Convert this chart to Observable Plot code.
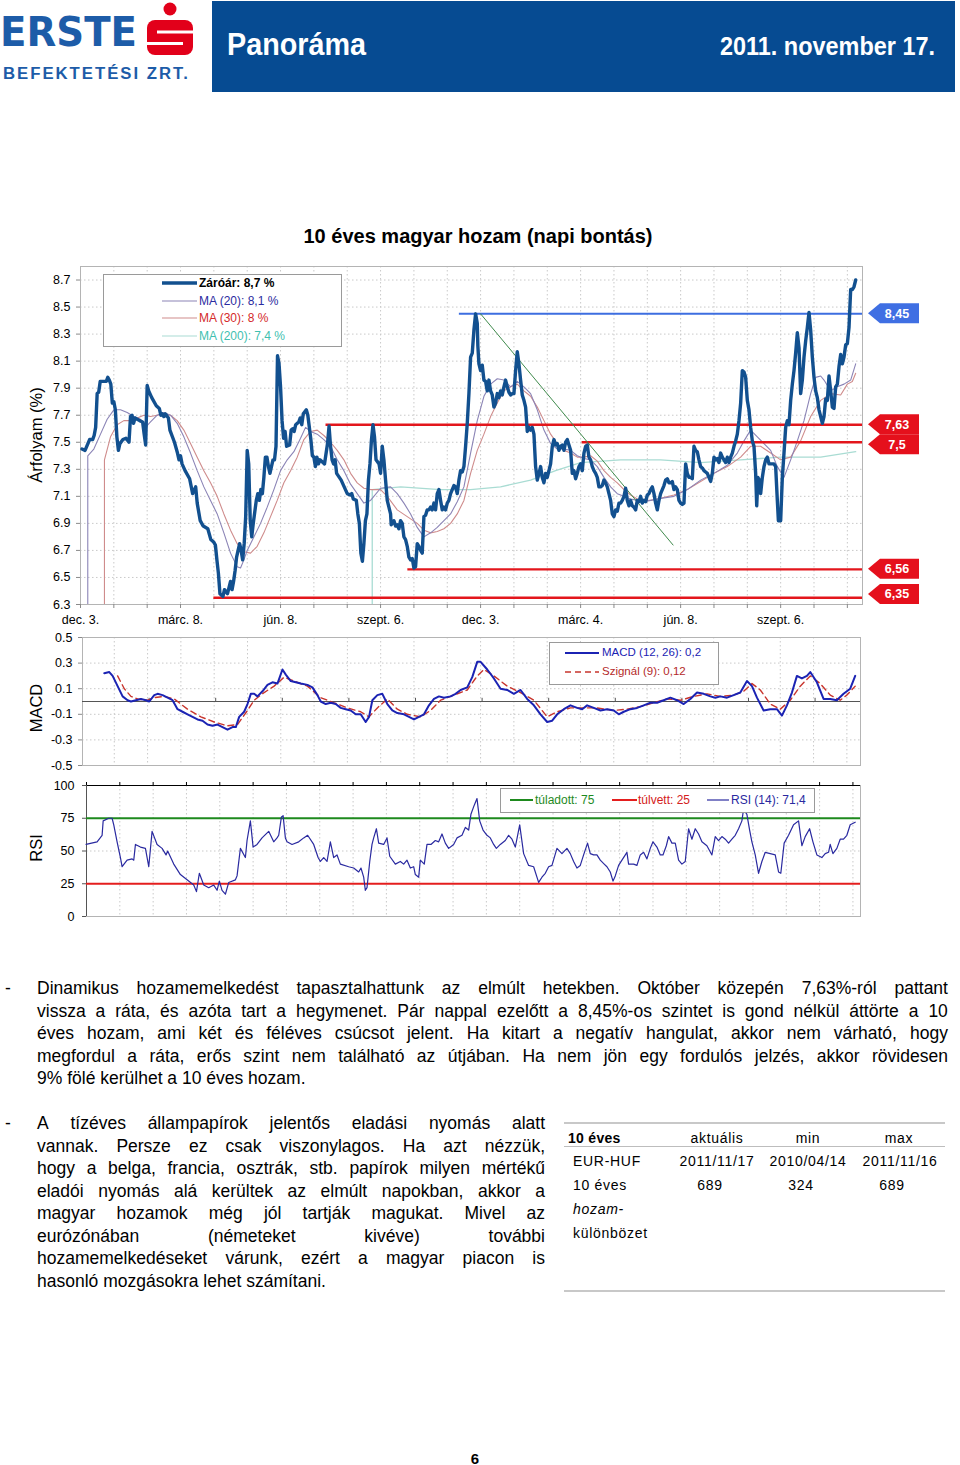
<!DOCTYPE html>
<html lang="hu">
<head>
<meta charset="utf-8">
<title>10 éves magyar hozam (napi bontás)</title>
<script src="https://cdn.jsdelivr.net/npm/d3@7"></script>
<script src="https://cdn.jsdelivr.net/npm/@observablehq/plot@0.6"></script>
<style>
html,body{margin:0;padding:0;background:#fff}
body{position:relative;width:960px;height:1465px;overflow:hidden;font-family:"Liberation Sans",Arial,Helvetica,sans-serif;color:#000}
.a{position:absolute;white-space:nowrap}
.lh1{line-height:1}
.ytitle{font-size:16.5px;line-height:1;transform:translate(-50%,-50%) rotate(-90deg)}
.lg{font-size:12px;line-height:1;transform:translateY(-50%)}
.box{border:1px solid #9a9a9a;background:#fff;box-sizing:border-box}
.para{font-size:17.5px;line-height:22.5px}
.jl{display:flex;justify-content:space-between;white-space:nowrap}
.tc{font-size:14px;letter-spacing:0.7px;line-height:1;transform:translate(-50%,-50%)}
.tl{font-size:14px;letter-spacing:0.7px;line-height:1;transform:translateY(-50%)}
</style>
</head>
<body>

<!-- header -->
<div class="a lh1" data-fit="137" style="left:0px;top:12px;font-size:41px;font-weight:bold;color:#1d5ca8;font-family:'DejaVu Sans','Liberation Sans',Arial">ERSTE</div>
<svg class="a" style="left:140px;top:0" width="60" height="60">
  <circle cx="30" cy="9" r="6.5" fill="#e2001a"/>
  <rect x="7" y="20" width="46" height="35" rx="8" fill="#e2001a"/>
  <rect x="17" y="30.5" width="36" height="3" fill="#fff"/>
  <rect x="7" y="42" width="36" height="3" fill="#fff"/>
</svg>
<div class="a lh1" data-fit="187" style="left:3px;top:65.8px;font-size:16.8px;font-weight:bold;color:#1d5ca8;letter-spacing:2px">BEFEKTETÉSI ZRT.</div>
<div class="a" style="left:212px;top:1px;width:743px;height:91px;background:#064b92"></div>
<div class="a lh1" data-fit="139" style="left:227px;top:29px;font-size:31px;font-weight:bold;color:#fff;font-family:'Liberation Sans Narrow','Liberation Sans',Arial">Panoráma</div>
<div class="a lh1" data-fit="215" style="left:720px;top:32.5px;font-size:26.5px;font-weight:bold;color:#fff;font-family:'Liberation Sans Narrow','Liberation Sans',Arial">2011. november 17.</div>

<!-- chart title -->
<div class="a lh1" style="left:478px;top:225.5px;font-size:20px;font-weight:bold;transform:translateX(-50%)">10 éves magyar hozam (napi bontás)</div>

<!-- charts -->
<div class="a" id="priceChart" style="left:0;top:250px"></div>
<div class="a" id="macdChart" style="left:0;top:630px"></div>
<div class="a" id="rsiChart" style="left:0;top:775px"></div>

<!-- axis titles -->
<div class="a ytitle" style="left:36px;top:435px">Árfolyam (%)</div>
<div class="a ytitle" style="left:36px;top:708px">MACD</div>
<div class="a ytitle" style="left:36px;top:848px">RSI</div>

<!-- price legend -->
<div class="a box" style="left:103px;top:274px;width:239px;height:73px"></div>
<svg class="a" style="left:162px;top:274px" width="36" height="72">
  <line x1="0" y1="9" x2="35" y2="9" stroke="#12508f" stroke-width="3.4"/>
  <line x1="0" y1="27" x2="35" y2="27" stroke="#8b84b6" stroke-width="1.1"/>
  <line x1="0" y1="44" x2="35" y2="44" stroke="#cf8c8c" stroke-width="1.1"/>
  <line x1="0" y1="62" x2="35" y2="62" stroke="#a9dcd3" stroke-width="1.2"/>
</svg>
<div class="a lg" style="left:199px;top:283px;font-weight:bold">Záróár: 8,7 %</div>
<div class="a lg" style="left:199px;top:301px;color:#2b2ba0">MA (20): 8,1 %</div>
<div class="a lg" style="left:199px;top:318px;color:#d42a2a">MA (30): 8 %</div>
<div class="a lg" style="left:199px;top:336px;color:#3fbfb0">MA (200): 7,4 %</div>

<!-- MACD legend -->
<div class="a box" style="left:549px;top:642px;width:170px;height:43px"></div>
<svg class="a" style="left:565px;top:645px" width="34" height="36">
  <line x1="0" y1="8" x2="34" y2="8" stroke="#1b23b3" stroke-width="2"/>
  <line x1="0" y1="27" x2="34" y2="27" stroke="#c8352d" stroke-width="1.4" stroke-dasharray="6,4"/>
</svg>
<div class="a lg" style="left:602px;top:653px;color:#1b23b3;font-size:11.5px">MACD (12, 26): 0,2</div>
<div class="a lg" style="left:602px;top:672px;color:#b42a2a;font-size:11.5px">Szignál (9): 0,12</div>

<!-- RSI legend -->
<div class="a box" style="left:500px;top:788px;width:315px;height:25px"></div>
<svg class="a" style="left:505px;top:795px" width="230" height="10">
  <line x1="5" y1="5" x2="28" y2="5" stroke="#1e8a1e" stroke-width="2"/>
  <line x1="107" y1="5" x2="132" y2="5" stroke="#e41e1e" stroke-width="2"/>
  <line x1="202" y1="5" x2="224" y2="5" stroke="#2a2aa0" stroke-width="1.2"/>
</svg>
<div class="a lg" style="left:535px;top:800px;color:#1e8a1e">túladott: 75</div>
<div class="a lg" style="left:638px;top:800px;color:#d42020">túlvett: 25</div>
<div class="a lg" style="left:731px;top:800px;color:#2a2aa0">RSI (14): 71,4</div>

<!-- text -->
<div class="a para" style="left:5px;top:977px">-</div>
<div class="a para" style="left:37px;top:977px;width:911px">
  <div class="jl">Dinamikus hozamemelkedést tapasztalhattunk az elmúlt hetekben. Október közepén 7,63%-ról pattant</div>
  <div class="jl">vissza a ráta, és azóta tart a hegymenet. Pár nappal ezelőtt a 8,45%-os szintet is gond nélkül áttörte a 10</div>
  <div class="jl">éves hozam, ami két és féléves csúcsot jelent. Ha kitart a negatív hangulat, akkor nem várható, hogy</div>
  <div class="jl">megfordul a ráta, erős szint nem található az útjában. Ha nem jön egy fordulós jelzés, akkor rövidesen</div>
  <div>9% fölé kerülhet a 10 éves hozam.</div>
</div>
<div class="a para" style="left:5px;top:1112px">-</div>
<div class="a para" style="left:37px;top:1112px;width:508px">
  <div class="jl">A tízéves állampapírok jelentős eladási nyomás alatt</div>
  <div class="jl">vannak. Persze ez csak viszonylagos. Ha azt nézzük,</div>
  <div class="jl">hogy a belga, francia, osztrák, stb. papírok milyen mértékű</div>
  <div class="jl">eladói nyomás alá kerültek az elmúlt napokban, akkor a</div>
  <div class="jl">magyar hozamok még jól tartják magukat. Mivel az</div>
  <div class="jl">eurózónában (németeket kivéve) további</div>
  <div class="jl">hozamemelkedéseket várunk, ezért a magyar piacon is</div>
  <div>hasonló mozgásokra lehet számítani.</div>
</div>

<!-- table -->
<div class="a" style="left:564px;top:1122px;width:381px;height:2px;background:#c8c8c8"></div>
<div class="a" style="left:564px;top:1146px;width:381px;height:1px;background:#bdbdbd"></div>
<div class="a" style="left:564px;top:1290px;width:381px;height:2px;background:#c8c8c8"></div>
<div class="a tl" style="left:568px;top:1138px;font-weight:bold;letter-spacing:0.3px">10 éves</div>
<div class="a tc" style="left:717px;top:1138px">aktuális</div>
<div class="a tc" style="left:808px;top:1138px">min</div>
<div class="a tc" style="left:899px;top:1138px">max</div>
<div class="a tl" style="left:573px;top:1161px">EUR-HUF</div>
<div class="a tc" style="left:717px;top:1161px">2011/11/17</div>
<div class="a tc" style="left:808px;top:1161px">2010/04/14</div>
<div class="a tc" style="left:900px;top:1161px">2011/11/16</div>
<div class="a tl" style="left:573px;top:1185px">10 éves</div>
<div class="a tc" style="left:710px;top:1185px">689</div>
<div class="a tc" style="left:801px;top:1185px">324</div>
<div class="a tc" style="left:892px;top:1185px">689</div>
<div class="a tl" style="left:573px;top:1209px;font-style:italic">hozam-</div>
<div class="a tl" style="left:573px;top:1233px">különbözet</div>

<div class="a lh1" style="left:475px;top:1458px;font-size:15px;font-weight:bold;transform:translate(-50%,-50%)">6</div>

<script>
// ---------- data (x = trading-day index, y = value) ----------
const xTickDays = d3.range(0, 516, 22);
const xLabelDays = [0, 66, 132, 198, 264, 330, 396, 462];
const xLabels = ["dec. 3.", "márc. 8.", "jún. 8.", "szept. 6.", "dec. 3.", "márc. 4.", "jún. 8.", "szept. 6."];
const priceTicks = [6.3, 6.5, 6.7, 6.9, 7.1, 7.3, 7.5, 7.7, 7.9, 8.1, 8.3, 8.5, 8.7];
const macdTicks = [0.5, 0.3, 0.1, -0.1, -0.3, -0.5];
const rsiTicks = [0, 25, 50, 75, 100];
const rsiOverbought = 75;
const rsiOversold = 25;

const close = [[1,7.45],[3,7.44],[6,7.52],[8,7.52],[9,7.55],[10,7.61],[11,7.86],[12,7.87],[13,7.95],[15,7.95],[17,7.95],[18,7.98],[19,7.96],[20,7.93],[21,7.79],[22,7.8],[23,7.74],[24,7.54],[25,7.44],[26,7.49],[28,7.52],[30,7.53],[32,7.5],[33,7.69],[34,7.7],[35,7.64],[36,7.68],[39,7.66],[41,7.65],[42,7.56],[43,7.48],[44,7.92],[45,7.88],[47,7.83],[50,7.77],[52,7.75],[53,7.7],[54,7.71],[55,7.69],[56,7.71],[58,7.68],[59,7.59],[62,7.5],[64,7.42],[65,7.37],[66,7.4],[67,7.34],[69,7.29],[72,7.23],[74,7.12],[76,7.17],[77,7.05],[79,6.92],[81,6.88],[84,6.86],[86,6.78],[88,6.76],[89,6.74],[90,6.63],[91,6.53],[92,6.38],[94,6.36],[95,6.41],[97,6.38],[99,6.47],[100,6.41],[101,6.47],[102,6.55],[103,6.65],[105,6.75],[106,6.7],[107,6.63],[108,6.75],[109,6.95],[110,7.44],[111,7.34],[112,6.92],[113,6.8],[114,6.9],[116,7.07],[117,7.12],[118,7.07],[119,7.15],[120,7.12],[121,7.24],[122,7.39],[123,7.39],[124,7.32],[125,7.27],[127,7.37],[128,7.37],[129,7.47],[130,8.14],[131,8.08],[132,7.91],[133,7.66],[134,7.53],[135,7.58],[136,7.47],[138,7.48],[139,7.59],[140,7.6],[141,7.58],[142,7.63],[144,7.65],[145,7.68],[146,7.63],[147,7.71],[149,7.74],[150,7.7],[152,7.52],[153,7.4],[154,7.39],[155,7.32],[156,7.39],[157,7.34],[158,7.37],[161,7.34],[163,7.49],[164,7.62],[165,7.47],[166,7.37],[167,7.34],[168,7.37],[169,7.27],[172,7.22],[174,7.17],[176,7.12],[178,7.11],[179,7.12],[180,7.08],[182,7.07],[183,6.97],[184,6.9],[185,6.68],[186,6.62],[187,6.75],[188,6.92],[189,6.97],[190,7.22],[191,7.34],[192,7.52],[193,7.63],[194,7.54],[195,7.37],[197,7.34],[198,7.27],
[199.1,7.47],[200.2,7.37],[201.3,7.22],[202.4,7.07],[203.5,7.02],[204.6,6.97],[205,6.89],[206.8,6.92],[207.9,6.88],[209,6.89],[210.1,6.86],[211.2,6.92],[212.3,6.9],[213.4,6.8],[214.5,6.78],[215.6,6.73],[216.7,6.65],[217.8,6.63],[218.9,6.64],[220,6.57],[221.1,6.58],[222.2,6.75],[223.3,6.73],[224.4,6.7],[225.5,6.68],[226.6,6.95],[227.7,6.96],[228.8,7],[229.9,7],[231,7.02],[232.1,7],[233.2,7.05],[234.3,7],[235.4,7.12],[236.5,7.15],[237.6,7.07],[238.7,7],[239.8,7.02],[240.9,7],[242,7.05],[243.1,7.07],[244.2,7.12],[245.3,7.15],[246.4,7.18],[247.5,7.17],[248.6,7.12],[249.7,7.22],[250.8,7.29],[251.9,7.28],[253,7.32],[254.1,7.47],[255.2,7.64],[256.3,7.86],[257.4,8.13],[258.5,8.16],[259.6,8.33],[260.7,8.45],[261.8,8.38],[262.2,8.21],[262.9,8.08],[264,8.03],[265.1,8.07],[266.2,7.96],[267.3,7.95],[268.4,7.88],[269.5,7.96],[270.6,7.88],[271.7,7.85],[272.8,7.76],[273.9,7.79],[275,7.86],[276.1,7.83],[277.2,7.88],[278.3,7.85],[279.4,7.91],[280.5,7.96],[281.6,7.91],[282.7,7.87],[283.8,7.85],[284.9,7.86],[286,7.86],[287.1,8.03],[288.2,8.17],[289.3,8.08],[290.4,7.96],[291.5,7.85],[292.6,7.81],[293.7,7.76],[294.8,7.58],[295.9,7.61],[297,7.59],[298.1,7.61],[299.2,7.56],[300.3,7.32],[301.4,7.22],[302.5,7.27],[303.6,7.32],[304.7,7.24],[305.8,7.2],[306.9,7.27],[308,7.24],[309.1,7.29],[310.2,7.34],[311.3,7.47],[312.4,7.52],[313.5,7.48],[314.6,7.49],[315.7,7.44],[316.8,7.47],[317.9,7.48],[319,7.44],[320.1,7.5],[321.2,7.52],[322.3,7.48],[323.4,7.44],[324.5,7.27],[325.6,7.29],[326.7,7.23],[327.8,7.27],[328.9,7.32],[330,7.34],[331.1,7.29],[332.2,7.42],[333.3,7.47],[334.4,7.48],[335.5,7.39],[336.6,7.37],[337.7,7.32],[338.8,7.29],[339.9,7.27],[341,7.24],[342.1,7.17],[343.2,7.17],[344.3,7.18],[345.4,7.22],[346.5,7.2],[347.6,7.17],[348.7,7.12],[349.8,7.07],[350.9,6.97],[352,6.95],[353.1,7],[354.2,6.99],[355.3,7.05],[356.4,7.05],[357.5,7.07],[358.6,7.1],[359.7,7.16],[360.8,7.07],[361.9,7.03],[363,7.07],[364.1,7.03],[365.2,7.02],[366.3,7],[367.4,7.07],[368.5,7.06],[369.6,7.1],[370.7,7.05],[371.8,7.07],[372.9,7.06],[374,7.11],[375.1,7.12],[376.2,7.15],[377.3,7.17],[378.4,7.12],[379.5,7.05],[380.6,7],[381.7,7.07],[382.8,7.12],[383.9,7.15],[385,7.18],[386.1,7.22],[387.2,7.23],[388.3,7.2],[389.4,7.2],
[390.5,7.21],[391.6,7.15],[392.7,7.17],[393.8,7.15],[394.9,7.07],[396,7.05],[397.1,7.04],[398.2,7.05],[399.3,7.34],[400.4,7.27],[401.5,7.24],[402.6,7.24],[403.7,7.23],[404.8,7.47],[405.9,7.44],[407,7.43],[408.1,7.37],[409.2,7.32],[410.3,7.31],[411.4,7.29],[412.5,7.28],[413.6,7.27],[414.7,7.24],[415.8,7.21],[416.9,7.27],[418,7.39],[419.1,7.37],[420.2,7.38],[421.3,7.35],[422.4,7.42],[423.5,7.39],[424.6,7.37],[425.7,7.35],[426.8,7.39],[427.9,7.35],[429,7.39],[430.1,7.42],[431.2,7.47],[432.3,7.51],[433.4,7.56],[434.5,7.66],[435.6,7.79],[436.7,8.03],[437.8,8.02],[438.9,7.98],[440,7.81],[441.1,7.74],[442.2,7.61],[443.3,7.51],[444.4,7.47],[445.5,7.27],[446.2,7.03],[447,7.24],[447.9,7.22],[448.8,7.12],[449.9,7.24],[451,7.32],[452.1,7.37],[453.2,7.39],[454.3,7.34],[455.4,7.34],[457.6,7.34],[458.7,7.32],[459.8,7.07],[460.5,6.92],[462,6.92],[463.1,7.24],[464.2,7.42],[465.3,7.61],[466.4,7.66],[467.5,7.63],[468.6,7.81],[469.7,7.93],[470.8,8.03],[471.9,8.16],[473,8.31],[474.1,8.2],[475.2,7.86],[476.3,7.96],[477.4,8.13],[478.5,8.25],[479.6,8.35],[480.7,8.46],[481.8,8.33],[482.9,8.13],[484,7.98],[485.1,7.88],[486.2,7.83],[487.3,7.74],[488.4,7.69],[489.5,7.64],[490.6,7.69],[491.7,7.82],[492.8,7.81],[493.9,7.99],[495,7.88],[496.1,7.76],[497.2,7.75],[498.3,7.91],[499.4,7.93],[500.5,8.06],[501.6,8.15],[502.7,8.08],[503.8,8.13],[504.9,8.22],[506,8.23],[507.1,8.35],[508.2,8.63],[509.3,8.63],[510.4,8.65],[511.5,8.7]];

const ma20 = [[4.8,0],[4.8,7.4],[8.8,7.45],[13.2,7.56],[17.6,7.67],[22,7.74],[26.4,7.74],[30.8,7.72],[35.2,7.69],[39.6,7.67],[42.9,7.61],[46.2,7.65],[50.6,7.7],[55,7.72],[59.4,7.7],[63.8,7.64],[68.2,7.54],[72.6,7.42],[77,7.29],[81.4,7.17],[85.8,7.07],[90.2,6.97],[94.6,6.83],[99,6.68],[103.4,6.58],[105.6,6.57],[107.8,6.63],[110,6.7],[114.4,6.8],[118.8,6.9],[123.2,7.02],[127.6,7.15],[132,7.29],[136.4,7.37],[140.8,7.43],[145.2,7.53],[148.5,7.61],[151.8,7.58],[156.2,7.56],[160.6,7.52],[165,7.47],[169.4,7.37],[173.8,7.29],[178.2,7.19],[182.6,7.12],[187,7.05],[191.4,7.07],[198,7.16],[204.6,7.17],[209,7.12],[213.4,7.05],[217.8,6.97],[222.2,6.87],[226.6,6.8],[231,6.83],[235.4,6.87],[239.8,6.92],[244.2,6.97],[248.6,7.06],[253,7.17],[257.4,7.42],[261.8,7.66],[266.2,7.84],[270.6,7.93],[275,7.97],[279.4,7.96],[283.8,7.91],[288.2,7.95],[292.6,7.91],[297,7.86],[301.4,7.74],[305.8,7.59],[310.2,7.49],[314.6,7.45],[319,7.45],[323.4,7.44],[327.8,7.4],[332.2,7.38],[336.6,7.37],[341,7.32],[345.4,7.24],[349.8,7.17],[354.2,7.12],[358.6,7.1],[363,7.08],[367.4,7.07],[371.8,7.06],[376.2,7.07],[380.6,7.08],[391.6,7.1],[400.4,7.15],[409.2,7.22],[418,7.27],[426.8,7.33],[433.4,7.42],[437.8,7.51],[442.2,7.59],[446.6,7.54],[451,7.49],[455.4,7.44],[459.8,7.32],[464.2,7.24],[468.6,7.37],[473,7.51],[477.4,7.66],[481.8,7.86],[485.1,7.98],[488.4,7.99],[490.6,7.96],[495,7.88],[499.4,7.91],[503.8,7.93],[508.2,7.96],[511.5,8.08]];

const ma30 = [[15.8,0],[15.8,7.37],[19.8,7.54],[24.2,7.63],[28.6,7.66],[33,7.66],[37.4,7.68],[41.8,7.7],[46.2,7.69],[50.6,7.7],[55,7.71],[59.4,7.7],[63.8,7.66],[68.2,7.59],[72.6,7.49],[77,7.39],[81.4,7.29],[85.8,7.2],[90.2,7.1],[94.6,6.97],[99,6.85],[103.4,6.75],[107.8,6.69],[112.2,6.68],[116.6,6.73],[121,6.83],[125.4,6.95],[129.8,7.07],[134.2,7.2],[138.6,7.29],[143,7.39],[147.4,7.52],[151.8,7.58],[156.2,7.59],[160.6,7.55],[165,7.5],[169.4,7.44],[173.8,7.37],[178.2,7.27],[182.6,7.2],[187,7.16],[191.4,7.15],[198,7.15],[202.4,7.1],[209,7],[215.6,6.95],[222.2,6.9],[226.6,6.85],[231,6.83],[235.4,6.84],[239.8,6.86],[244.2,6.9],[248.6,6.97],[253,7.07],[257.4,7.27],[261.8,7.44],[266.2,7.56],[270.6,7.69],[275,7.79],[279.4,7.88],[283.8,7.91],[288.2,7.93],[292.6,7.88],[297,7.84],[301.4,7.76],[305.8,7.66],[310.2,7.56],[314.6,7.49],[319,7.44],[323.4,7.42],[327.8,7.39],[332.2,7.39],[336.6,7.4],[341,7.36],[345.4,7.29],[349.8,7.24],[354.2,7.2],[358.6,7.15],[363,7.11],[367.4,7.08],[371.8,7.07],[376.2,7.07],[380.6,7.08],[391.6,7.11],[400.4,7.15],[409.2,7.21],[418,7.27],[426.8,7.32],[435.6,7.39],[442.2,7.47],[448.8,7.47],[455.4,7.42],[462,7.37],[468.6,7.39],[475.2,7.51],[481.8,7.69],[488.4,7.81],[495,7.86],[501.6,7.85],[506,7.93],[509.3,7.95],[511.5,8.01]];

const ma200 = [[192.5,0],[192.5,7.15],[211.2,7.17],[237.6,7.15],[257.4,7.15],[277.2,7.17],[297,7.22],[313.5,7.29],[330,7.35],[356.4,7.37],[382.8,7.37],[409.2,7.35],[435.6,7.37],[462,7.39],[488.4,7.39],[511.5,7.43]];

const levels = [8.45, 7.63, 7.5, 6.56, 6.35];
const levelStart = [250, 162, 331, 216, 88];
const trend = [[264, 8.45], [391, 6.74]];

const macd = [[15.4,0.22],[18.7,0.23],[20.9,0.2],[24.2,0.12],[27.5,0.04],[30.8,0.01],[33,0],[36.3,0.01],[39.6,0.02],[42.9,0.01],[45.1,0],[48.4,0.05],[50.6,0.06],[53.9,0.05],[57.2,0.03],[60.5,0.01],[63.8,-0.06],[67.1,-0.08],[70.4,-0.1],[73.7,-0.12],[77,-0.14],[80.3,-0.15],[83.6,-0.18],[86.9,-0.19],[90.2,-0.18],[93.5,-0.2],[96.8,-0.22],[100.1,-0.2],[102.3,-0.2],[104.5,-0.12],[107.8,-0.08],[110,-0.02],[112.2,0.06],[114.4,0.06],[116.6,0.04],[119.9,0.08],[123.2,0.13],[126.5,0.15],[129.8,0.14],[133.1,0.25],[135.3,0.21],[138.6,0.16],[141.9,0.15],[145.2,0.14],[149.6,0.13],[152.9,0.11],[156.2,0.05],[158.4,0],[161.7,-0.02],[165,-0.01],[168.3,-0.02],[171.6,-0.05],[174.9,-0.06],[178.2,-0.07],[181.5,-0.1],[184.8,-0.1],[188.1,-0.16],[190.3,-0.12],[192.5,0.01],[195.8,0.05],[199.1,0.06],[202.4,-0.02],[205.7,-0.07],[209,-0.09],[213.4,-0.1],[216.7,-0.12],[220,-0.14],[223.3,-0.12],[226.6,-0.1],[229.9,-0.03],[233.2,0.02],[236.5,0.04],[239.8,0.03],[244.2,0.04],[247.5,0.06],[250.8,0.09],[255.2,0.11],[258.5,0.19],[261.8,0.31],[264,0.31],[268.4,0.25],[272.8,0.18],[277.2,0.1],[281.6,0.09],[286,0.06],[290.4,0.09],[294.8,0.02],[299.2,-0.03],[303.6,-0.1],[308,-0.16],[311.3,-0.15],[314.6,-0.1],[319,-0.06],[323.4,-0.03],[327.8,-0.05],[331.1,-0.06],[334.4,-0.03],[338.8,-0.05],[343.2,-0.07],[347.6,-0.06],[352,-0.07],[355.3,-0.1],[358.6,-0.08],[363,-0.06],[367.4,-0.05],[371.8,-0.03],[376.2,-0.01],[380.6,-0.01],[385,0.01],[389.4,0.03],[393.8,0.01],[398.2,-0.02],[402.6,0.02],[407,0.07],[411.4,0.06],[415.8,0.04],[419.1,0.03],[422.4,0.04],[426.8,0.03],[431.2,0.05],[435.6,0.07],[440,0.16],[443.3,0.12],[446.6,0.03],[451,-0.07],[455.4,-0.06],[459.8,-0.06],[463.1,-0.11],[466.4,-0.03],[469.7,0.07],[473,0.2],[476.3,0.18],[479.6,0.2],[481.8,0.23],[486.2,0.15],[490.6,0.02],[495,0.02],[499.4,0.01],[503.8,0.06],[508.2,0.1],[511.5,0.2]];

const signal = [[24.2,0.2],[28.6,0.1],[33,0.04],[37.4,0.02],[44,0.01],[48.4,0.03],[55,0.04],[61.6,0.02],[70.4,-0.06],[79.2,-0.12],[88,-0.16],[96.8,-0.19],[103.4,-0.18],[110,-0.07],[114.4,0.01],[121,0.07],[127.6,0.12],[134.2,0.19],[140.8,0.16],[149.6,0.12],[158.4,0.03],[167.2,-0.01],[176,-0.05],[184.8,-0.08],[190.3,-0.12],[195.8,-0.05],[202.4,0.02],[209,-0.06],[215.6,-0.1],[224.4,-0.12],[231,-0.07],[237.6,0.01],[246.4,0.05],[255.2,0.09],[261.8,0.2],[266.2,0.25],[272.8,0.2],[281.6,0.12],[290.4,0.07],[299.2,0.01],[308,-0.12],[314.6,-0.08],[323.4,-0.05],[332.2,-0.05],[341,-0.05],[352,-0.07],[360.8,-0.06],[369.6,-0.04],[378.4,-0.01],[387.2,0.02],[396,0.01],[404.8,0.04],[413.6,0.06],[422.4,0.04],[431.2,0.05],[437.8,0.08],[443.3,0.14],[448.8,0.09],[455.4,-0.02],[462,-0.06],[468.6,0.01],[475.2,0.12],[481.8,0.2],[488.4,0.14],[495,0.05],[501.6,0.01],[506,0.05],[511.5,0.12]];

const rsi = [[3.7,55],[11,57],[14.3,62],[15,73],[18.7,75],[20.9,75],[22,70],[24.2,57],[26.4,45],[27.5,38],[30.8,43],[34.1,44],[35.2,43],[36.3,55],[39.6,53],[42.9,52],[45.1,38],[47.3,65],[50.6,55],[53.9,52],[56.5,47],[57.6,50],[61.6,40],[66,32],[70.4,28],[74.8,24],[76.6,19],[78.5,33],[81.4,24],[84.7,22],[88,24],[90.2,20],[91.7,27],[93.5,20],[95.7,17],[97.9,26],[102.3,28],[103.4,31],[105.6,52],[108.9,45],[110,58],[112.2,73],[114,53],[116.6,55],[119.9,60],[124.3,65],[127.6,57],[129.8,60],[130.9,62],[132.7,76],[133.8,77],[135.3,60],[136.4,57],[139.7,55],[144.1,57],[147.4,60],[150,62],[154,55],[156.9,45],[158.4,42],[160.6,45],[162.8,42],[165,57],[167.2,45],[169.4,47],[171.6,40],[177.1,38],[180.4,37],[183.7,34],[185.2,37],[187,30],[188.1,20],[189.2,22],[191,42],[192.5,55],[193.6,60],[195.4,67],[196.9,56],[200.2,55],[202.4,60],[204.2,46],[207.9,40],[211.2,42],[213.4,40],[215.6,43],[217.8,37],[220,38],[221.1,32],[223.3,30],[224.4,43],[227,40],[228.8,55],[231.4,55],[234.3,58],[236.5,57],[238.7,63],[240.9,56],[243.1,52],[246.4,55],[248.6,60],[251.9,62],[254.1,68],[256.3,66],[257.8,78],[260,85],[261.8,90],[263.6,73],[265.8,66],[268.4,62],[270.6,60],[272.8,55],[274.6,52],[277.2,55],
[280.5,58],[282.7,62],[284.9,59],[287.1,53],[290,70],[292.6,48],[295.9,39],[299.2,38],[302.5,26],[304.7,30],[306.9,33],[309.1,38],[311.3,39],[314.6,52],[317.9,48],[321.2,52],[323.4,48],[325.6,42],[327.8,37],[330,39],[332.2,47],[334.8,56],[336.6,48],[338.8,47],[341,47],[343.2,43],[345.8,40],[347.6,38],[349.8,34],[351.6,27],[353.1,31],[355.3,39],[357.5,43],[360.8,49],[361.9,40],[365.2,40],[367.4,39],[369.6,47],[371.8,49],[374,44],[376.2,52],[378,57],[380.6,53],[382.8,47],[384.6,47],[386.8,54],[388.3,61],[390.5,56],[392.7,56],[394.9,43],[397.1,40],[399.3,42],[401.5,67],[403.7,59],[405.9,67],[408.1,63],[410.3,57],[413.6,54],[416.9,47],[419.1,61],[421.3,58],[423.5,61],[425.7,59],[427.9,56],[430.1,59],[432.3,62],[434.5,67],[436.7,73],[437.8,82],[440,78],[441.8,66],[443.3,57],[445.5,47],[447.7,33],[449.9,42],[452.1,49],[455.4,48],[458.7,47],[460.9,34],[462.4,33],[464.6,56],[467.5,62],[470.8,70],[474.1,73],[476.3,54],[478.5,61],[481.4,67],[483.6,57],[486.2,47],[489.5,45],[491.7,48],[493.9,49],[495,55],[496.8,48],[499.4,52],[501.6,59],[503.8,59],[506,62],[508.2,70],[511.5,72]];

// ---------- charts ----------
const F = '"Liberation Sans", Arial, sans-serif';
const X = d => d[0], Y = d => d[1];
const dotted = {stroke: "#c9c9c9", strokeOpacity: 1, strokeDasharray: "1.5,2.5"};
const baseStyle = {fontFamily: F, fontSize: "12.5px", background: "transparent", color: "#000", overflow: "visible"};
const labelOf = d => { const i = xLabelDays.indexOf(d); return i >= 0 ? xLabels[i] : ""; };
const xMax = 516;
const levelRows = levels.map((v, i) => ({v, start: levelStart[i], blue: i === 0}));

const priceChart = Plot.plot({
  width: 960, height: 385, marginLeft: 80, marginRight: 98, marginTop: 16, marginBottom: 31,
  style: baseStyle,
  x: {domain: [0, xMax]},
  y: {domain: [6.3, 8.8]},
  marks: [
    Plot.gridY(priceTicks, dotted),
    Plot.gridX(xTickDays.slice(1), dotted),
    Plot.frame({stroke: "#b4b4b4"}),
    Plot.axisY(priceTicks, {tickSize: 4, tickPadding: 6, tickFormat: d => d.toFixed(1), stroke: "#8a8a8a", label: null}),
    Plot.axisX(xTickDays, {tickSize: 4, tickPadding: 7, tickFormat: labelOf, stroke: "#8a8a8a", label: null}),
    Plot.line(ma200, {x: X, y: Y, stroke: "#a9dcd3", strokeWidth: 1.3, clip: true}),
    Plot.line(ma30, {x: X, y: Y, stroke: "#cf8c8c", strokeWidth: 1.1, clip: true}),
    Plot.line(ma20, {x: X, y: Y, stroke: "#8b84b6", strokeWidth: 1.1, clip: true}),
    Plot.ruleY(levelRows.filter(d => !d.blue), {y: "v", x1: "start", x2: () => xMax, stroke: "#e3161c", strokeWidth: 2.4}),
    Plot.ruleY(levelRows.filter(d => d.blue), {y: "v", x1: "start", x2: () => xMax, stroke: "#3d6ee0", strokeWidth: 2}),
    Plot.line(trend, {x: X, y: Y, stroke: "#3f8a4c", strokeWidth: 1}),
    Plot.line(close, {x: X, y: Y, stroke: "#12508f", strokeWidth: 3.4, strokeLinejoin: "round", strokeLinecap: "round"})
  ]
});
document.getElementById("priceChart").appendChild(priceChart);

// level tags on the right, positioned with the chart's y scale
(function addTags() {
  const ys = priceChart.scale("y");
  const bottom = ys.apply(6.3);
  const items = levelRows.map(d => ({...d, cy: ys.apply(d.v), text: String(d.v).replace(".", ",")}))
    .sort((a, b) => a.cy - b.cy);
  const g = d3.select(priceChart).append("g");
  let prevBottom = -Infinity;
  const h = 20, tip = 868, body = 880, right = 919;
  for (const it of items) {
    let cy = it.cy;
    if (cy - h / 2 < prevBottom) cy = prevBottom + h / 2;
    if (cy + h / 2 > bottom) cy = bottom - h / 2;
    prevBottom = cy + h / 2;
    const fill = it.blue ? "#3f6fe3" : "#e5101c";
    g.append("polygon")
      .attr("points", `${tip},${cy} ${body},${cy - h / 2} ${right},${cy - h / 2} ${right},${cy + h / 2} ${body},${cy + h / 2}`)
      .attr("fill", fill);
    g.append("text").attr("x", 897).attr("y", cy).attr("dy", "0.35em")
      .attr("text-anchor", "middle").attr("fill", "#fff")
      .attr("font-weight", "bold").attr("font-size", 12.5).attr("font-family", F)
      .text(it.text);
  }
})();

const macdChart = Plot.plot({
  width: 960, height: 145, marginLeft: 82, marginRight: 100, marginTop: 7, marginBottom: 10,
  style: baseStyle,
  x: {domain: [1, 515], axis: null},
  y: {domain: [-0.5, 0.5]},
  marks: [
    Plot.gridY([0.3, 0.1, -0.1, -0.3], dotted),
    Plot.gridX(xTickDays.filter(d => d > 1), dotted),
    Plot.frame({stroke: "#b4b4b4"}),
    Plot.axisY(macdTicks, {tickSize: 4, tickPadding: 6, tickFormat: d => d.toFixed(1), stroke: "#8a8a8a", label: null}),
    Plot.ruleY([0], {stroke: "#555", strokeWidth: 1}),
    Plot.ruleX(d3.range(45, 516, 44), {y1: 0, y2: 0.025, stroke: "#555"}),
    Plot.line(signal, {x: X, y: Y, stroke: "#c8352d", strokeWidth: 1.4, strokeDasharray: "6,4"}),
    Plot.line(macd, {x: X, y: Y, stroke: "#1b23b3", strokeWidth: 2})
  ]
});
document.getElementById("macdChart").appendChild(macdChart);

const rsiChart = Plot.plot({
  width: 960, height: 150, marginLeft: 86, marginRight: 100, marginTop: 10, marginBottom: 9,
  style: baseStyle,
  x: {domain: [4, 515]},
  y: {domain: [0, 100]},
  marks: [
    Plot.gridY([50], dotted),
    Plot.gridX(d3.range(26, 516, 22), dotted),
    Plot.frame({stroke: "#b4b4b4"}),
    Plot.axisY(rsiTicks, {tickSize: 4, tickPadding: 8, stroke: "#555", label: null}),
    Plot.axisX(d3.range(4, 516, 22), {anchor: "top", tickSize: 4, tickFormat: () => "", stroke: "#000", label: null}),
    Plot.ruleY([100], {stroke: "#000"}),
    Plot.ruleX([4], {stroke: "#555"}),
    Plot.ruleY([rsiOverbought], {stroke: "#1e8a1e", strokeWidth: 2}),
    Plot.ruleY([rsiOversold], {stroke: "#e41e1e", strokeWidth: 2}),
    Plot.line(rsi, {x: X, y: Y, stroke: "#2a2aa0", strokeWidth: 1.2})
  ]
});
document.getElementById("rsiChart").appendChild(rsiChart);

// ---------- layout helpers ----------
document.querySelectorAll("[data-fit]").forEach(el => {
  const w = +el.dataset.fit;
  const r = el.getBoundingClientRect().width;
  el.style.transformOrigin = "0 0";
  el.style.transform = `scaleX(${w / r})`;
});
document.querySelectorAll(".jl").forEach(el => {
  const words = el.textContent.trim().split(/\s+/);
  el.textContent = "";
  words.forEach(w => { const s = document.createElement("span"); s.textContent = w; el.appendChild(s); });
});
</script>
</body>
</html>
